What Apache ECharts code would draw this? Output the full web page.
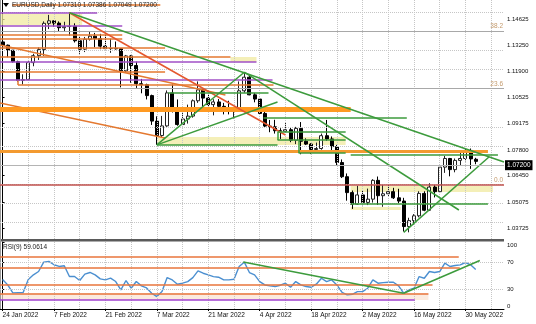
<!DOCTYPE html>
<html>
<head>
<meta charset="utf-8">
<script src="https://cdn.jsdelivr.net/npm/echarts/dist/echarts.min.js"></script>
<style>
html,body{margin:0;padding:0;background:#fff;}
#chart{width:536px;height:324px;}
</style>
</head>
<body>
<div id="chart"></div>
<script>
// ---------- data ----------
const symbolName = 'EURUSD,Daily';
const rsiName = 'RSI(9)';
const dates = ['24 Jan 2022','25 Jan 2022','26 Jan 2022','27 Jan 2022','28 Jan 2022','31 Jan 2022','1 Feb 2022','2 Feb 2022','3 Feb 2022','4 Feb 2022',
'7 Feb 2022','8 Feb 2022','9 Feb 2022','10 Feb 2022','11 Feb 2022','14 Feb 2022','15 Feb 2022','16 Feb 2022','17 Feb 2022','18 Feb 2022',
'21 Feb 2022','22 Feb 2022','23 Feb 2022','24 Feb 2022','25 Feb 2022','28 Feb 2022','1 Mar 2022','2 Mar 2022','3 Mar 2022','4 Mar 2022',
'7 Mar 2022','8 Mar 2022','9 Mar 2022','10 Mar 2022','11 Mar 2022','14 Mar 2022','15 Mar 2022','16 Mar 2022','17 Mar 2022','18 Mar 2022',
'21 Mar 2022','22 Mar 2022','23 Mar 2022','24 Mar 2022','25 Mar 2022','28 Mar 2022','29 Mar 2022','30 Mar 2022','31 Mar 2022','1 Apr 2022',
'4 Apr 2022','5 Apr 2022','6 Apr 2022','7 Apr 2022','8 Apr 2022','11 Apr 2022','12 Apr 2022','13 Apr 2022','14 Apr 2022','15 Apr 2022',
'18 Apr 2022','19 Apr 2022','20 Apr 2022','21 Apr 2022','22 Apr 2022','25 Apr 2022','26 Apr 2022','27 Apr 2022','28 Apr 2022','29 Apr 2022',
'2 May 2022','3 May 2022','4 May 2022','5 May 2022','6 May 2022','9 May 2022','10 May 2022','11 May 2022','12 May 2022','13 May 2022',
'16 May 2022','17 May 2022','18 May 2022','19 May 2022','20 May 2022','23 May 2022','24 May 2022','25 May 2022','26 May 2022','27 May 2022',
'30 May 2022','31 May 2022','1 Jun 2022'];

const opens = [1.1343,1.1326,1.1300,1.1240,1.1143,1.1146,1.1235,1.1271,1.1303,1.1440,
1.1453,1.1441,1.1417,1.1423,1.1425,1.1349,1.1305,1.1357,1.1373,1.1360,
1.1321,1.1308,1.1309,1.1307,1.1192,1.1270,1.1220,1.1125,1.1120,1.1063,
1.0930,1.0855,1.0905,1.1077,1.0985,1.0912,1.0941,1.0956,1.1036,1.1093,
1.1050,1.1016,1.1030,1.1007,1.0997,1.0983,1.0985,1.1088,1.1159,1.1067,
1.1045,1.0970,1.0904,1.0900,1.0880,1.0877,1.0885,1.0830,1.0892,1.0825,
1.0810,1.0782,1.0787,1.0854,1.0837,1.0797,1.0714,1.0640,1.0557,1.0497,
1.0545,1.0506,1.0523,1.0621,1.0541,1.0551,1.0562,1.0530,1.0513,1.0380,
1.0411,1.0436,1.0553,1.0465,1.0586,1.0562,1.0690,1.0735,1.0677,1.0725,
1.0735,1.0777,1.07310];
const highs = [1.1345,1.1329,1.1300,1.1245,1.1174,1.1244,1.1281,1.1314,1.1450,1.1484,
1.1455,1.1450,1.1448,1.1495,1.1440,1.1372,1.1369,1.1395,1.1390,1.1385,
1.1395,1.1360,1.1345,1.1310,1.1275,1.1275,1.1240,1.1150,1.1125,1.1068,
1.0955,1.0957,1.1090,1.1121,1.1043,1.0985,1.1016,1.1043,1.1137,1.1100,
1.1072,1.1044,1.1045,1.1025,1.1036,1.0995,1.1137,1.1185,1.1171,1.1077,
1.1051,1.0995,1.0936,1.0937,1.0893,1.0922,1.0895,1.0900,1.0925,1.0840,
1.0815,1.0818,1.0865,1.0936,1.0850,1.0806,1.0730,1.0657,1.0568,1.0593,
1.0569,1.0578,1.0627,1.0641,1.0602,1.0600,1.0582,1.0577,1.0530,1.0426,
1.0445,1.0564,1.0564,1.0606,1.0600,1.0697,1.0748,1.0738,1.0735,1.0765,
1.0787,1.0787,1.07386];
const lows = [1.1289,1.1263,1.1235,1.1136,1.1121,1.1140,1.1216,1.1249,1.1270,1.1410,
1.1422,1.1396,1.1399,1.1375,1.1340,1.1281,1.1290,1.1350,1.1315,1.1305,
1.1305,1.1286,1.1303,1.1106,1.1183,1.1130,1.1103,1.1075,1.1043,1.0910,
1.0806,1.0847,1.0900,1.0975,1.0906,1.0912,1.0917,1.0948,1.1025,1.1003,
1.1002,1.0960,1.0990,1.0965,1.0965,1.0944,1.0980,1.1078,1.1065,1.1028,
1.0966,1.0895,1.0872,1.0865,1.0837,1.0872,1.0820,1.0810,1.0757,1.0805,
1.0758,1.0770,1.0781,1.0827,1.0770,1.0698,1.0633,1.0515,1.0472,1.0493,
1.0491,1.0492,1.0505,1.0493,1.0483,1.0535,1.0524,1.0500,1.0354,1.0350,
1.0390,1.0428,1.0460,1.0461,1.0532,1.0556,1.0660,1.0642,1.0663,1.0700,
1.0720,1.0681,1.07049];
const closes = [1.1326,1.1300,1.1240,1.1143,1.1146,1.1235,1.1271,1.1303,1.1440,1.1453,
1.1441,1.1417,1.1423,1.1425,1.1349,1.1305,1.1357,1.1373,1.1360,1.1321,
1.1308,1.1309,1.1307,1.1192,1.1270,1.1220,1.1125,1.1120,1.1063,1.0930,
1.0855,1.0905,1.1077,1.0985,1.0912,1.0941,1.0956,1.1036,1.1093,1.1050,
1.1016,1.1030,1.1007,1.0997,1.0983,1.0985,1.1088,1.1159,1.1067,1.1045,
1.0970,1.0904,1.0900,1.0880,1.0877,1.0885,1.0830,1.0892,1.0825,1.0810,
1.0782,1.0787,1.0854,1.0837,1.0797,1.0714,1.0640,1.0557,1.0497,1.0545,
1.0506,1.0523,1.0621,1.0541,1.0551,1.0562,1.0530,1.0513,1.0380,1.0411,
1.0436,1.0553,1.0465,1.0586,1.0562,1.0690,1.0735,1.0677,1.0725,1.0735,
1.0777,1.0733,1.07200];
const rsiValues = [44,36,24,24.5,24.5,44,51,56,70,71,
66,63.5,64.5,48.5,48.5,42.5,52,54.5,51,45,
43.5,46,41,28.5,42.5,31,41,34.5,31.5,23.5,
18.5,26,47,43.4,37,38.5,40.9,46.9,56.9,53.4,
50.9,48.4,47.4,43.4,43.4,44.4,63.4,69.9,54.4,50.9,
40.9,35.9,34.5,33.5,35.5,38.5,32.5,40.9,35.9,33.5,
32.5,37,45.9,40.9,43.4,35.9,25,21,22,26,
26,31,43.4,38.5,39.4,39.9,39.9,34.5,23.5,28.5,
31,48.4,45.9,55.9,54.4,55.9,68.4,63.4,64.9,65.9,
69.4,65.9,59.0614];

const priceTicks = [1.14625,1.13250,1.11900,1.10525,1.09175,1.07800,1.06450,1.05075,1.03725];
const rsiTicks = [0,30,70,100];
const rsiLevels = [70,30];
const fibLevels = [1.13739,1.10922,1.06385];
const fibNames = ['38.2','23.6','0.0'];

// drawn objects: [barIndex1, value1, barIndex2, value2]
const greenLines = [
 [13,1.1495,97.5,1.07167],[30,1.0806,47,1.1185],[30,1.0806,53.46,1.10296],[47,1.1185,88.73,1.04664],
 [78,1.0350,94.57,1.07428],[32.2,1.10766,51.71,1.10766],[50.74,1.09462,78.6,1.09462],
 [53.46,1.08732,66.71,1.08732],[53.46,1.08315,66.71,1.08315],[57.55,1.07637,66.71,1.07637],
 [53.46,1.08732,53.46,1.08315],[57.55,1.08315,57.55,1.07637],[30,1.08054,53.46,1.08054],
 [67.69,1.04977,94.38,1.04977],[67.69,1.07558,96.32,1.07558]];
const orangeLines = [
 [-0.5,1.13791,23.27,1.13791],[-0.5,1.13582,23.27,1.13582],[-0.5,1.13113,31.6,1.13113],
 [-0.5,1.12643,44.31,1.12643],[-0.5,1.11861,31.6,1.11861],[3.0,1.11183,52.68,1.11183],
 [3.0,1.11444,3.0,1.11183],[1.84,1.15355,30.67,1.15355],
 [-0.5,1.13269,43.33,1.10662],[-0.5,1.10244,31.6,1.08419]];
const redLines = [[13,1.1495,55,1.08575]];
const purpleLines = [[-0.5,1.14954,18.4,1.14954],[-0.5,1.14260,23.27,1.14260],[-0.5,1.12383,49.37,1.12383],[-0.5,1.11444,52.49,1.11444]];
const thickOrangeLines = [[-0.5,1.09905,67.69,1.09905]];
const midOrangeLines = [[-0.5,1.07741,94.38,1.07741]];
const yellowBoxes = [[-0.5,1.14886,15.48,1.14312],[44.31,1.12643,49.37,1.12383],[30.09,1.08471,66.71,1.08054],
 [67.69,1.05915,95.35,1.05603],[67.69,1.04820,77.43,1.04664]];
const rsiOrangeLines = [[-0.5,77.4,88.7,77.4],[-0.5,61,88.9,61],[-0.5,36,83.6,36],[-0.5,23.5,82.8,23.5]];
const rsiPurpleLines = [[-0.5,13.5,80.15,13.5]];
const rsiGreenLines = [[46.8,70,78,23.5],[78,23.5,92.8,72.4]];
const rsiBoxes = [[-0.5,23.5,82.8,13.5]];

// ---------- layout ----------
const FONT = 'Liberation Sans, Arial, sans-serif';
const N = dates.length;
const SLOTS = N + 5;
const cats = dates.concat(new Array(SLOTS - N).fill(''));
const candles = dates.map((d, i) => [opens[i], closes[i], lows[i], highs[i]]);
const last = N - 1;
const PRICE_MIN = 1.031513, PRICE_MAX = 1.156159;

function segs(list, style) {
  return list.map(s => [{coord: [s[0], s[1]], lineStyle: style}, {coord: [s[2], s[3]]}]);
}
function boxes(list, color) {
  return list.map(b => [{coord: [b[0], b[1]], itemStyle: {color: color}}, {coord: [b[2], b[3]]}]);
}
const gridStyle = {color: '#c6c6c6', type: 'dotted', width: 1};
const vGrid = [];
for (let i = 5; i < SLOTS; i += 5) vGrid.push({xAxis: i, lineStyle: gridStyle});
const hGrid = priceTicks.map(p => ({yAxis: p, lineStyle: gridStyle}));
const rGrid = rsiLevels.map(v => ({yAxis: v, lineStyle: gridStyle}));
const fibLines = fibLevels.map((v, k) => ({
  yAxis: v,
  lineStyle: {color: k === 2 ? '#c0504d' : '#a8a8a8', width: k === 2 ? 1.5 : 1, type: 'solid'},
  label: {show: true, formatter: fibNames[k], position: 'insideEndTop', color: '#c49a6c', fontSize: 6.5, fontFamily: FONT, distance: 1}
}));

const ML = {symbol: ['none', 'none'], silent: true, animation: false, label: {show: false}, emphasis: {disabled: true}};

const mainAnn = []
  .concat(segs(orangeLines, {color: '#e4782f', width: 1.5, type: 'solid'}))
  .concat(segs(purpleLines, {color: '#a14fc6', width: 1.5, type: 'solid'}))
  .concat(segs(thickOrangeLines, {color: '#ff9a22', width: 5, type: 'solid'}))
  .concat(segs(midOrangeLines, {color: '#f39a30', width: 3, type: 'solid'}))
  .concat(segs(redLines, {color: '#e4572e', width: 1.5, type: 'solid'}))
  .concat(segs(greenLines, {color: '#3c9b3c', width: 1.5, type: 'solid'}));
const rsiAnn = []
  .concat(segs(rsiOrangeLines, {color: '#e8743b', width: 1.5, type: 'solid'}))
  .concat(segs(rsiPurpleLines, {color: '#a040d0', width: 1.5, type: 'solid'}))
  .concat(segs(rsiGreenLines, {color: '#3c9b3c', width: 1.5, type: 'solid'}));

const titleText = symbolName + ' ' + opens[last].toFixed(5) + ' ' + highs[last].toFixed(5) + ' ' + lows[last].toFixed(5) + ' ' + closes[last].toFixed(5);
const rsiText = rsiName + ' ' + rsiValues[last].toFixed(4);
const labelEvery = (i) => i % 10 === 0 && i < N;

const chart = echarts.init(document.getElementById('chart'), null, {renderer: 'canvas', width: 536, height: 324, devicePixelRatio: 1});
chart.setOption({
  animation: false,
  backgroundColor: '#ffffff',
  grid: [
    {left: 0, top: 0, width: 504, height: 239, containLabel: false, outerBoundsMode: 'none'},
    {left: 0, top: 242, width: 504, height: 67, containLabel: false, outerBoundsMode: 'none'}
  ],
  xAxis: [
    {type: 'category', gridIndex: 0, data: cats, boundaryGap: true, axisLine: {show: false}, axisTick: {show: false}, axisLabel: {show: false}, splitLine: {show: false}},
    {type: 'value', gridIndex: 0, min: -0.5, max: SLOTS - 0.5, show: false, splitLine: {show: false}},
    {type: 'category', gridIndex: 1, data: cats, boundaryGap: true,
     axisLine: {show: true, lineStyle: {color: '#000', width: 1}},
     axisTick: {show: true, interval: labelEvery, alignWithLabel: true, length: 2, lineStyle: {color: '#000'}},
     axisLabel: {show: true, interval: labelEvery, align: 'left', fontSize: 6.5, color: '#111', fontFamily: FONT, margin: 3, hideOverlap: false},
     splitLine: {show: false}},
    {type: 'value', gridIndex: 1, min: -0.5, max: SLOTS - 0.5, show: false, splitLine: {show: false}}
  ],
  yAxis: [
    {type: 'value', gridIndex: 0, position: 'right', min: PRICE_MIN, max: PRICE_MAX, scale: true,
     axisLine: {show: true, lineStyle: {color: '#000', width: 1}},
     axisTick: {show: true, customValues: priceTicks, length: 2, lineStyle: {color: '#000'}},
     axisLabel: {show: true, customValues: priceTicks, formatter: v => v.toFixed(5), fontSize: 6, color: '#111', fontFamily: FONT, margin: 3},
     splitLine: {show: false}},
    {type: 'value', gridIndex: 1, position: 'right', min: 0, max: 100,
     axisLine: {show: true, lineStyle: {color: '#000', width: 1}},
     axisTick: {show: true, customValues: rsiTicks, length: 2, lineStyle: {color: '#000'}},
     axisLabel: {show: true, customValues: rsiTicks, fontSize: 6, color: '#111', fontFamily: FONT, margin: 3,
                 verticalAlignMinLabel: 'bottom', verticalAlignMaxLabel: 'top'},
     splitLine: {show: false}}
  ],
  series: [
    {type: 'line', name: 'mainGrid', xAxisIndex: 1, yAxisIndex: 0, data: [], z: 1, silent: true,
     markArea: {silent: true, data: boxes(yellowBoxes, 'rgba(240,234,160,0.75)')},
     markLine: Object.assign({}, ML, {data: vGrid.concat(hGrid).concat(fibLines)})},
    {type: 'line', name: 'mainObjects', xAxisIndex: 1, yAxisIndex: 0, data: [], z: 2, silent: true,
     markLine: Object.assign({}, ML, {data: mainAnn})},
    {type: 'candlestick', name: 'EURUSD', xAxisIndex: 0, yAxisIndex: 0, data: candles, z: 3, barWidth: 3.6,
     itemStyle: {color: '#ffffff', color0: '#000000', borderColor: '#222222', borderColor0: '#000000', borderWidth: 1},
     markLine: Object.assign({}, ML, {data: [{yAxis: closes[last], lineStyle: {color: '#b4b4b4', width: 1, type: 'solid'},
       label: {show: true, position: 'end', formatter: closes[last].toFixed(5), backgroundColor: '#000', color: '#fff',
               padding: [2, 2, 1, 2], fontSize: 6.5, fontFamily: FONT, distance: 1}}]})},
    {type: 'line', name: 'rsiGrid', xAxisIndex: 3, yAxisIndex: 1, data: [], z: 1, silent: true,
     markArea: {silent: true, data: boxes(rsiBoxes, 'rgba(250,226,210,0.7)')},
     markLine: Object.assign({}, ML, {data: vGrid.concat(rGrid)})},
    {type: 'line', name: 'rsiObjects', xAxisIndex: 3, yAxisIndex: 1, data: [], z: 2, silent: true,
     markLine: Object.assign({}, ML, {data: rsiAnn})},
    {type: 'line', name: 'RSI', xAxisIndex: 2, yAxisIndex: 1, data: rsiValues, z: 3, showSymbol: false, symbol: 'none',
     lineStyle: {color: '#4b8fd0', width: 1.4}}
  ],
  graphic: [
    {type: 'rect', z: 5, shape: {x: 0, y: 239, width: 504, height: 2.5}, style: {fill: '#5a5a5a'}},
    {type: 'line', z: 5, shape: {x1: 0.5, y1: 0, x2: 0.5, y2: 309}, style: {stroke: '#9a9a9a', lineWidth: 1}},
    {type: 'polygon', z: 6, shape: {points: [[3, 3], [9, 3], [6, 7]]}, style: {fill: '#000'}},
    {type: 'text', z: 6, x: 12, y: 1.5, style: {text: titleText, fontSize: 6.5, fontFamily: FONT, fill: '#222'}},
    {type: 'text', z: 6, x: 3, y: 243.5, style: {text: rsiText, fontSize: 6.5, fontFamily: FONT, fill: '#222'}}
  ]
});
</script>
</body>
</html>
